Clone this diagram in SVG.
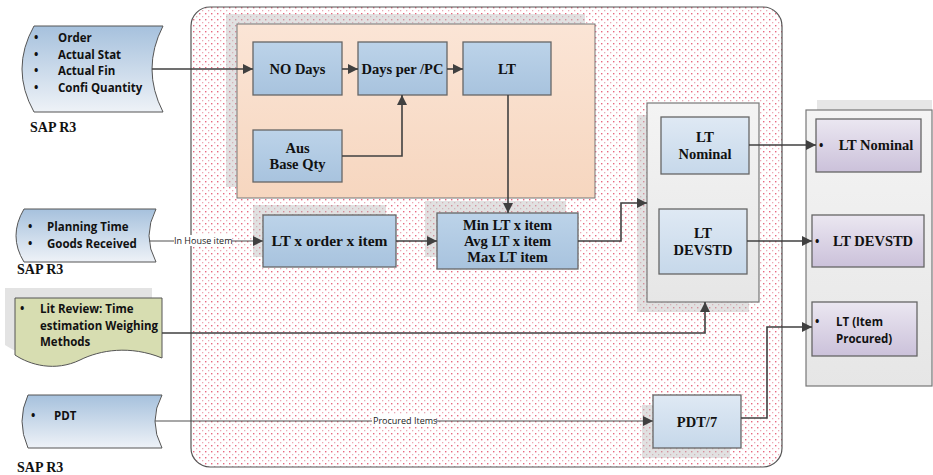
<svg xmlns="http://www.w3.org/2000/svg" width="933" height="475" viewBox="0 0 933 475">
<defs>
<pattern id="dots" width="6" height="6" patternUnits="userSpaceOnUse">
<rect x="1" y="1" width="1.4" height="1.4" fill="#e8687f"/>
<rect x="4" y="4" width="1.3" height="1.3" fill="#eaa9b5"/>
</pattern>
<linearGradient id="gBlue" x1="0" y1="0" x2="0" y2="1"><stop offset="0" stop-color="#bcd3e9"/><stop offset="1" stop-color="#a8c3de"/></linearGradient>
<linearGradient id="gBlueL" x1="0" y1="0" x2="0" y2="1"><stop offset="0" stop-color="#dfe9f4"/><stop offset="1" stop-color="#c6d8ea"/></linearGradient>
<linearGradient id="gSrc" x1="0" y1="0" x2="0" y2="1"><stop offset="0" stop-color="#a6c1dd"/><stop offset="1" stop-color="#eef2f7"/></linearGradient>
<linearGradient id="gOr" x1="0" y1="0" x2="0" y2="1"><stop offset="0" stop-color="#fbe5d6"/><stop offset="1" stop-color="#f6d6bf"/></linearGradient>
<linearGradient id="gGray" x1="0" y1="0" x2="0" y2="1"><stop offset="0" stop-color="#f4f4f4"/><stop offset="1" stop-color="#e6e6e6"/></linearGradient>
<linearGradient id="gPur" x1="0" y1="0" x2="0" y2="1"><stop offset="0" stop-color="#ebe7f1"/><stop offset="1" stop-color="#cbc1da"/></linearGradient>
<marker id="arr" viewBox="0 0 10 10" refX="10" refY="5" markerWidth="10" markerHeight="10" markerUnits="userSpaceOnUse" orient="auto"><path d="M0,0 L10,5 L0,10 Z" fill="#404040"/></marker>
<style>
.box{fill:url(#gBlue);stroke:#666;stroke-width:1.3}
.boxl{fill:url(#gBlueL);stroke:#666;stroke-width:1.3}
.pur{fill:url(#gPur);stroke:#666;stroke-width:1.3}
.sh{fill:#bdbdbd;opacity:0.45}
.src{fill:url(#gSrc);stroke:#555;stroke-width:1}
.t{font-family:"Liberation Serif","Times New Roman",serif;font-weight:bold;font-size:14.5px;fill:#111;text-anchor:middle}
.s{font-family:"Open Sans","Liberation Sans",sans-serif;font-weight:bold;font-size:11.5px;fill:#111}
.sap{font-family:"Liberation Serif","Times New Roman",serif;font-weight:bold;font-size:14px;fill:#111}
.lbl{font-family:"Open Sans","Liberation Sans",sans-serif;font-size:9px;fill:#222}
.c{fill:none;stroke:#404040;stroke-width:1.6}
.cl{fill:none;stroke:#505050;stroke-width:1.2}
</style>
</defs>
<rect width="933" height="475" fill="#fff"/>

<g id="container">
<rect x="191" y="7" width="591" height="460" rx="19" fill="url(#dots)" stroke="#555" stroke-width="1.2"/>
</g>

<g id="panel-orange">
<rect x="226" y="14" width="359" height="173" class="sh"/>
<rect x="237" y="24" width="358" height="174" fill="url(#gOr)" stroke="#777" stroke-width="1"/>
</g>

<g id="src1">
<path d="M34,26 H163 Q141,69 163,112 H34 Q10,69 34,26 Z" class="src"/>
<g class="s"><text x="34" y="42">•</text><text x="58" y="42">Order</text>
<text x="34" y="59">•</text><text x="58" y="59">Actual Stat</text>
<text x="34" y="75">•</text><text x="58" y="75">Actual Fin</text>
<text x="34" y="92">•</text><text x="58" y="92">Confi Quantity</text></g>
<text x="30" y="132" class="sap">SAP R3</text>
</g>

<g id="src2">
<path d="M24,209 H156 Q142,236 156,262 H24 Q8,236 24,209 Z" class="src"/>
<g class="s"><text x="28" y="231">•</text><text x="47" y="231">Planning Time</text>
<text x="28" y="248">•</text><text x="47" y="248">Goods Received</text></g>
<text x="17" y="274" class="sap">SAP R3</text>
</g>

<g id="src3">
<path d="M5,288 H152 V348 C120,335 90,340 70,350 C45,362 20,355 5,345 Z" fill="#e3e3e3"/>
<path d="M15,298 H162 V358 C130,345 100,350 80,360 C55,372 30,365 15,355 Z" fill="#d7ddb1" stroke="#555" stroke-width="1"/>
<g class="s"><text x="20" y="313">•</text><text x="40" y="313">Lit Review: Time</text>
<text x="40" y="330" textLength="118" lengthAdjust="spacingAndGlyphs">estimation Weighing</text>
<text x="40" y="346">Methods</text></g>
</g>

<g id="src4">
<path d="M28,395 H162 Q148,421 162,448 H28 Q16,421 28,395 Z" class="src"/>
<g class="s"><text x="31" y="420">•</text><text x="54" y="420">PDT</text></g>
<text x="17" y="472" class="sap">SAP R3</text>
</g>

<g id="nodays"><rect x="253" y="42" width="89" height="53" class="box"/><text x="297.5" y="74" class="t">NO Days</text></g>
<g id="dayspc"><rect x="358" y="42" width="89" height="53" class="box"/><text x="402.5" y="74" class="t">Days per /PC</text></g>
<g id="lt"><rect x="463" y="42" width="88" height="53" class="box"/><text x="507" y="74" class="t">LT</text></g>
<g id="aus"><rect x="253" y="130" width="89" height="52" class="box"/><text x="297.5" y="153" class="t">Aus</text><text x="297.5" y="169" class="t">Base Qty</text></g>

<g id="ltorder"><rect x="253" y="205" width="133" height="52" class="sh"/><rect x="263" y="215" width="133" height="52" class="box"/><text x="329.5" y="246" class="t" style="font-size:15.5px">LT x order x item</text></g>
<g id="minavgmax"><rect x="425" y="201" width="141" height="56" class="sh"/><rect x="437" y="213" width="141" height="56" class="box"/>
<text x="507.5" y="230" class="t">Min LT x item</text><text x="507.5" y="246" class="t">Avg LT x item</text><text x="507.5" y="262" class="t">Max LT item</text></g>

<g id="ltgroup"><rect x="637" y="115" width="112" height="197" class="sh"/><rect x="647" y="103" width="112" height="199" fill="url(#gGray)" stroke="#777" stroke-width="1.2"/></g>
<g id="ltnominal"><rect x="661" y="117" width="88" height="57" class="boxl"/><text x="705" y="142" class="t">LT</text><text x="705" y="159" class="t">Nominal</text></g>
<g id="ltdevstd"><rect x="659" y="209" width="88" height="65" class="boxl"/><text x="703" y="238" class="t">LT</text><text x="703" y="255" class="t">DEVSTD</text></g>

<g id="pdt7"><rect x="642" y="405" width="88" height="53" class="sh"/><rect x="653" y="395" width="88" height="53" class="boxl"/><text x="697" y="427" class="t">PDT/7</text></g>

<g id="outgroup"><rect x="817" y="100" width="115" height="276" fill="#e6e6e6"/><rect x="806" y="110" width="126" height="276" fill="url(#gGray)" stroke="#777" stroke-width="1.2"/></g>
<g id="outnominal"><rect x="816" y="119" width="105" height="53" class="pur"/><text x="819" y="150" class="s">•</text><text x="876" y="150" class="t">LT Nominal</text></g>
<g id="outdevstd"><rect x="812" y="215" width="112" height="52" class="pur"/><text x="815" y="246" class="s">•</text><text x="873" y="246" class="t">LT DEVSTD</text></g>
<g id="outproc"><rect x="812" y="302" width="105" height="54" class="pur"/><text x="815" y="326" class="s">•</text><text x="836" y="326" class="s">LT (Item</text><text x="836" y="343" class="s">Procured)</text></g>

<g id="connectors">
<path d="M152,69 H253" class="c" marker-end="url(#arr)"/>
<path d="M342,69 H358" class="c" marker-end="url(#arr)"/>
<path d="M447,69 H463" class="c" marker-end="url(#arr)"/>
<path d="M342,156 H402 V95" class="c" marker-end="url(#arr)"/>
<path d="M508,95 V213" class="c" marker-end="url(#arr)"/>
<path d="M149,241 H263" class="cl" marker-end="url(#arr)"/>
<rect x="174" y="235" width="58" height="11" fill="#fff"/>
<text x="174" y="244" class="lbl">In House item</text>
<path d="M396,241 H437" class="c" marker-end="url(#arr)"/>
<path d="M578,241 H621 V203 H647" class="c" marker-end="url(#arr)"/>
<path d="M162,333 H705 V302" class="c" marker-end="url(#arr)"/>
<path d="M155,421 H653" class="cl" marker-end="url(#arr)"/>
<rect x="372" y="415" width="64" height="11" fill="#fff"/>
<text x="373" y="424" class="lbl">Procured Items</text>
<path d="M749,145 H816" class="c" marker-end="url(#arr)"/>
<path d="M747,241 H812" class="c" marker-end="url(#arr)"/>
<path d="M741,418 H767 V327 H812" class="c" marker-end="url(#arr)"/>
</g>
</svg>
